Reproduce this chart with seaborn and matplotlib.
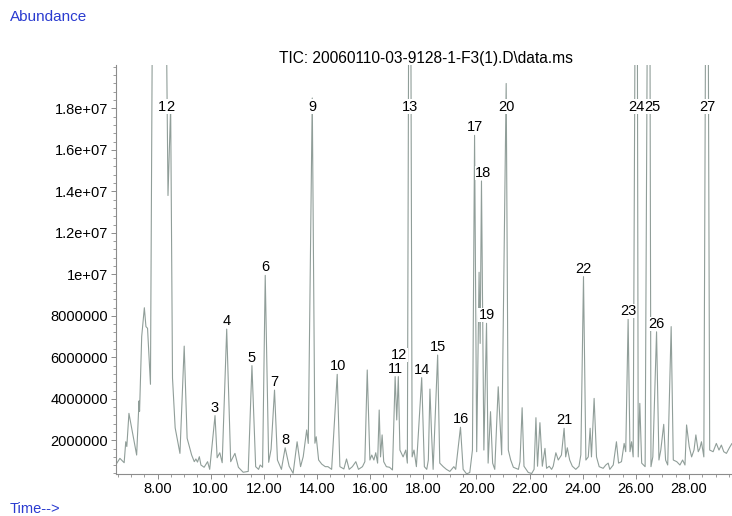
import pandas as pd
import seaborn as sns
import matplotlib
matplotlib.use("Agg")
import matplotlib.pyplot as plt
from matplotlib.ticker import MultipleLocator, FixedLocator, FuncFormatter

#### TIC trace (time in min, abundance in units of 1e6)
time = [6.42, 6.58, 6.74, 6.80, 6.84, 6.92, 7.21, 7.30, 7.32, 7.40, 7.50, 7.56, 7.62, 7.73,
        7.80, 8.07, 8.33, 8.39, 8.49, 8.56, 8.66, 8.84, 9.00, 9.11, 9.16, 9.28,
        9.38, 9.44, 9.50, 9.57, 9.63, 9.75, 9.88, 9.96, 10.16, 10.24, 10.34, 10.43,
        10.60, 10.75, 10.91, 11.04, 11.22, 11.41, 11.55, 11.69, 11.80, 11.86, 11.95,
        12.05, 12.18, 12.27, 12.40, 12.51, 12.66, 12.80, 12.95, 13.10, 13.25,
        13.38, 13.48, 13.61, 13.67, 13.82, 13.92, 13.97, 14.06, 14.18, 14.31, 14.41, 14.55,
        14.76, 14.86, 15.01, 15.11, 15.21, 15.33, 15.46, 15.56, 15.71, 15.80,
        15.89, 15.99, 16.06, 16.14, 16.21, 16.28, 16.34, 16.39, 16.45, 16.51, 16.61, 16.73, 16.84,
        16.94, 17.00, 17.06, 17.12, 17.24, 17.34, 17.40, 17.49, 17.58, 17.65, 17.74,
        17.94, 18.04, 18.13, 18.19, 18.25, 18.31, 18.37, 18.54,
        18.62, 18.75, 18.87, 19.00, 19.15, 19.22, 19.40, 19.50, 19.63, 19.75, 19.85,
        19.93, 20.01, 20.10, 20.14, 20.19, 20.28, 20.38, 20.44, 20.53, 20.61, 20.69, 20.82, 20.95,
        21.12, 21.20, 21.29, 21.39, 21.58, 21.64, 21.72, 21.79, 21.95, 22.08, 22.17,
        22.24, 22.30, 22.39, 22.48, 22.58, 22.64, 22.74, 22.83, 22.89, 22.99, 23.08, 23.20,
        23.30, 23.36, 23.42, 23.51, 23.61, 23.74, 23.86, 23.93, 24.03, 24.12, 24.21, 24.28, 24.33,
        24.43, 24.52, 24.62, 24.77, 24.87, 24.96, 25.02, 25.15, 25.27, 25.35, 25.46, 25.56, 25.62,
        25.71, 25.78, 25.84, 25.90, 26.03, 26.09, 26.15, 26.22, 26.35, 26.50, 26.57, 26.64,
        26.78, 26.87, 26.94, 27.05, 27.12, 27.20, 27.33, 27.41, 27.54, 27.66, 27.76, 27.85,
        27.91, 28.01, 28.10, 28.19, 28.26, 28.35, 28.41, 28.47, 28.56, 28.68,
        28.78, 28.91, 29.03, 29.13, 29.22, 29.31, 29.41, 29.53, 29.62]
abund = [0.81, 1.13, 0.92, 1.93, 1.70, 3.30, 1.29, 3.90, 3.40, 7.00, 8.39, 7.48, 7.40, 4.70,
         22.0, 50.0, 22.0, 13.8, 18.1, 5.00, 2.60, 1.37, 6.54, 2.10, 1.86, 1.29,
         0.97, 1.10, 0.95, 1.21, 0.81, 0.70, 0.97, 0.60, 3.19, 1.16, 1.40, 0.92,
         7.36, 0.97, 1.37, 0.70, 0.46, 0.50, 5.60, 0.73, 0.60, 0.81, 0.70,
         9.95, 0.94, 1.57, 4.42, 1.05, 0.60, 1.64, 0.75, 0.41, 1.93,
         0.73, 1.21, 2.50, 1.85, 18.5, 1.86, 2.17, 1.05, 0.85, 0.73, 0.73, 0.60,
         5.18, 0.73, 0.62, 1.10, 0.60, 0.73, 0.97, 0.60, 0.73, 0.97,
         5.39, 1.05, 1.29, 1.05, 1.40, 0.90, 3.46, 1.20, 2.26, 0.97, 0.73, 0.70, 0.57,
         5.07, 2.98, 5.07, 1.53, 1.20, 1.53, 0.90, 40.0, 1.20, 1.53, 0.73,
         5.02, 0.73, 0.60, 1.05, 4.47, 2.34, 0.60, 6.11,
         0.90, 0.73, 0.60, 0.50, 0.73, 0.60, 2.63, 0.60, 0.38, 0.45, 1.53,
         16.7, 1.45, 10.1, 6.67, 14.5, 1.53, 7.64, 0.90, 3.38, 0.90, 0.60, 4.58, 1.30,
         19.2, 1.53, 1.05, 0.70, 0.60, 0.97, 3.57, 0.75, 0.45, 0.40, 0.60,
         3.09, 0.75, 2.85, 0.75, 1.61, 0.65, 0.75, 0.60, 0.75, 1.40, 1.05, 1.29,
         2.58, 1.20, 1.64, 1.05, 0.75, 0.60, 0.75, 1.30, 9.89, 1.05, 1.20, 2.58, 1.20,
         4.02, 1.20, 0.73, 0.65, 0.81, 0.90, 0.60, 0.81, 1.93, 0.90, 0.97, 1.85, 1.45,
         7.83, 1.45, 1.93, 1.20, 40.0, 1.20, 3.78, 0.90, 0.73, 40.0, 0.73, 1.20,
         7.23, 1.05, 1.53, 2.77, 1.05, 0.81, 7.48, 1.05, 0.97, 0.81, 1.05, 0.81,
         2.74, 1.69, 1.20, 1.53, 2.26, 1.45, 1.61, 1.93, 1.20, 40.0,
         1.53, 1.45, 1.85, 1.53, 1.77, 1.45, 1.37, 1.66, 1.85]

#### Numbered peaks: label, retention time, apex abundance (1e6)
peak_label = [str(i) for i in range(1, 28)]
peak_rt = [8.17, 8.49, 10.16, 10.60, 11.55, 12.05, 12.40, 12.80, 13.82, 14.80,
           16.94, 17.10, 17.49, 17.94, 18.54, 19.42, 19.93, 20.25, 20.38, 21.12,
           23.30, 24.03, 25.71, 26.02, 26.62, 26.78, 28.68]
peak_top = [50.0, 18.1, 3.19, 7.36, 5.60, 9.95, 4.42, 1.64, 18.5, 5.18,
            5.07, 5.07, 40.0, 5.02, 6.11, 2.63, 16.7, 14.5, 7.64, 19.2,
            2.58, 9.89, 7.83, 40.0, 40.0, 7.23, 40.0]

y_ticks = [2e6, 4e6, 6e6, 8e6, 1e7, 1.2e7, 1.4e7, 1.6e7, 1.8e7]

df = pd.DataFrame({"time": time, "abundance": [a * 1e6 for a in abund]})

sns.set_style("ticks")
plt.rcParams["font.family"] = ["Liberation Sans", "DejaVu Sans"]

fig = plt.figure(figsize=(7.32, 5.16), dpi=100)
ax = fig.add_axes([0.158, 0.0814, 0.842, 0.7926])

sns.lineplot(data=df, x="time", y="abundance", sort=False, estimator=None,
             color="#909e99", lw=0.8, ax=ax)

ax.set_xlim(6.42, 29.62)
ax.set_ylim(0.376e6, 2.009e7)

####Peak numbers, white box so the trace runs behind them
cap = 17.7e6
for lab, rt, top in zip(peak_label, peak_rt, peak_top):
    off = 5.8
    if lab == "12":
        off = 15.6
    ax.annotate(lab, xy=(rt, min(top * 1e6, cap)), xytext=(0, off),
                textcoords="offset points", ha="center", va="center",
                fontsize=10.5, color="black", annotation_clip=False,
                bbox=dict(fc="white", ec="none", pad=0.1))

####Axes cosmetics
ax.xaxis.set_major_locator(MultipleLocator(2))
ax.xaxis.set_minor_locator(MultipleLocator(0.5))
ax.xaxis.set_major_formatter(FuncFormatter(lambda v, p: "%.2f" % v))
ax.yaxis.set_major_locator(FixedLocator(y_ticks))
ax.yaxis.set_minor_locator(MultipleLocator(4e5))
ax.yaxis.set_major_formatter(FuncFormatter(
    lambda v, p: "%d" % v if v < 1e7 else "{:g}".format(v)))

ax.tick_params(which="major", length=3.5, width=0.7, color="#8c8c8c",
               labelsize=10.5, labelcolor="black", pad=2)
ax.tick_params(which="minor", length=2, width=0.6, color="#8c8c8c")
ax.set_xlabel("")
ax.set_ylabel("")
for s in ["top", "right"]:
    ax.spines[s].set_visible(False)
for s in ["left", "bottom"]:
    ax.spines[s].set_color("#8c8c8c")
    ax.spines[s].set_linewidth(0.8)

fig.text(426 / 732, 1 - 59 / 516, r"TIC: 20060110-03-9128-1-F3(1).D\data.ms",
         ha="center", va="center", fontsize=11.2, color="black")
fig.text(10 / 732, 1 - 17 / 516, "Abundance", ha="left", va="center",
         fontsize=11, color="#2a3bd0")
fig.text(10 / 732, 1 - 509 / 516, "Time-->", ha="left", va="center",
         fontsize=10.5, color="#2a3bd0")

plt.savefig("out.png", dpi=100)
